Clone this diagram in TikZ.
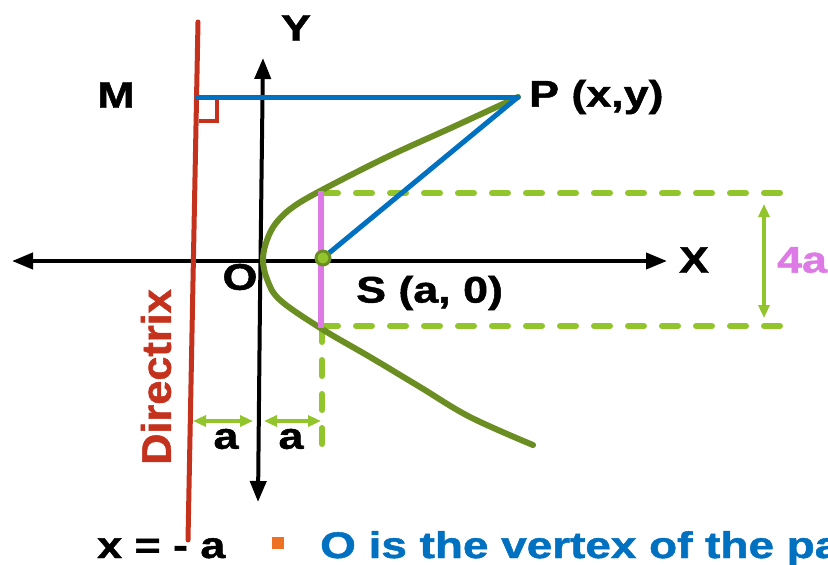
\documentclass[tikz,border=0pt]{standalone}
\usepackage{fontspec}
\setmainfont{Liberation Sans}
\newfontfamily\heavy[FakeBold=1.2]{Liberation Sans Bold}
\usetikzlibrary{arrows.meta}
\definecolor{dred}{RGB}{196,50,30}
\definecolor{dblue}{RGB}{0,112,192}
\definecolor{olive}{RGB}{107,142,35}
\definecolor{lgreen}{RGB}{146,196,44}
\definecolor{pinkc}{RGB}{222,122,230}
\definecolor{orangec}{RGB}{237,112,35}
\newcommand{\widetxt}[1]{\scalebox{1.21}[1]{#1}}
\tikzset{
  lbl/.style={font=\heavy\fontsize{37}{37}\selectfont, inner sep=0pt},
  axis/.style={line width=4pt, -{Triangle[width=16pt,length=21pt]}},
  garrow/.style={lgreen, line width=3.5pt, {Triangle[width=11pt,length=13pt]}-{Triangle[width=11pt,length=13pt]}},
  gdash/.style={lgreen, line width=6pt, line cap=round, dash pattern=on 16pt off 18pt},
}
\begin{document}
\begin{tikzpicture}[x=1pt,y=-1pt]
\useasboundingbox (0,0) rectangle (828,565);
% coordinates
\coordinate (V) at (263,259);
\coordinate (S) at (323,258);
\coordinate (P) at (518,97);
\coordinate (M) at (197,97);
\coordinate (LT) at (322,193);
\coordinate (LB) at (322,326);
\coordinate (RT) at (782,193);
\coordinate (RB) at (782,326);
\coordinate (DB) at (322,450);
% dashed latus rectum guides
\draw[gdash] (LT) -- (RT);
\draw[gdash] (LB) -- (RB);
\draw[gdash] (LB) -- (DB);
% axes
\coordinate (Xl) at (12,261);
\coordinate (Xr) at (667,261);
\coordinate (Yb) at (258,502);
\coordinate (Yt) at (263,58);
\draw[axis] (210,261) -- (Xl);
\draw[axis] (210,261) -- (Xr);
\draw[axis] (260,300) -- (Yt);
\draw[axis] (260,300) -- (Yb);
% parabola
\draw[olive, line width=6pt, line cap=round] plot[smooth, tension=0.6] coordinates {
 (518,97) (453,127) (387,157) (322,190) (293,207) (276,223) (267,240) (V)
 (267,279) (280,300) (322,329) (370,357) (420,387) (470,417) (533,445)};
% latus rectum
\draw[pinkc, line width=6pt] (321,191) -- (321,328);
% directrix
\coordinate (Dt) at (198,22);
\coordinate (Db) at (188,540);
\draw[dred, line width=5pt, line cap=round] (Dt) -- (Db);
\draw[dred, line width=4pt] (199,121) -- (217,121) -- (217,97);
% blue lines
\draw[dblue, line width=5pt, line cap=round] (M) -- (P);
\draw[dblue, line width=5pt, line cap=round, line join=round] (S) -- (P);
% focus
\draw[olive, line width=3pt, fill=lgreen] (S) circle (7pt);
% distance arrows
\coordinate (A1) at (193,421);
\coordinate (A2) at (253,421);
\coordinate (A3) at (264,421);
\coordinate (A4) at (321,421);
\draw[garrow] (A1) -- (A2);
\draw[garrow] (A3) -- (A4);
\coordinate (F1) at (764,204);
\coordinate (F2) at (764,318);
\draw[garrow] (F1) -- (F2);
% labels
\node[lbl] (ly) at (296,28) {\widetxt{Y}};
\node[lbl] (lm) at (116,95) {\widetxt{M}};
\node[lbl, anchor=west] (lp) at (529,97) {\widetxt{P (x,y)}};
\node[lbl] (lx) at (694,260) {\widetxt{X}};
\node[lbl] (lo) at (240,277) {\widetxt{O}};
\node[lbl, anchor=west] (ls) at (356,293) {\widetxt{S (a, 0)}};
\node[lbl, text=pinkc, anchor=west] (l4) at (777,260) {\widetxt{4a}};
\node[lbl, text=dred, rotate=90] (ld) at (156,377) {\scalebox{1.17}[1.12]{Directrix}};
\node[lbl] (la1) at (226,439) {\widetxt{a}};
\node[lbl] (la2) at (291,439) {\widetxt{a}};
\node[lbl, anchor=base west] (lxa) at (97,558) {\widetxt{x = - a}};
\fill[orangec] (272,537) rectangle (284,549);
\node[lbl, text=dblue, anchor=base west] (lv) at (320,558) {\scalebox{1.24}[1]{O is the vertex of the parabola}};
\end{tikzpicture}
\end{document}
